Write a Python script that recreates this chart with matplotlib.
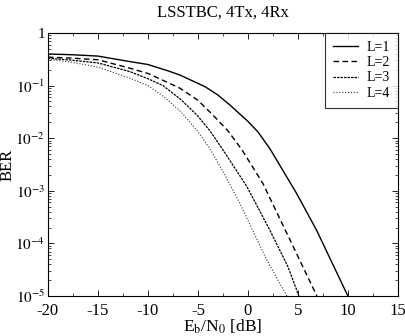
import numpy as np
import matplotlib
matplotlib.use("Agg")
import matplotlib.pyplot as plt
from matplotlib.ticker import FixedLocator, NullFormatter, LogLocator

plt.rcParams['font.family'] = ['Liberation Serif', 'DejaVu Serif']
plt.rcParams['mathtext.fontset'] = 'stix'

# Eb/N0 [dB] and log10(BER)
snr_L1 = [-20, -17.5, -15, -11.8, -10, -8, -6.8, -4.3, -3, -1.8, 0, 1, 2.2, 4.87, 6.87, 10]
log_L1 = [-0.40, -0.415, -0.44, -0.545, -0.60, -0.72, -0.80, -1.02, -1.18, -1.37, -1.68, -1.88, -2.20, -3.05, -3.75, -5.0]

snr_L2 = [-20, -17.5, -15, -11.8, -10, -8.5, -6.8, -5, -3.5, -2, -0.6, 1.5, 3.9, 6.9]
log_L2 = [-0.46, -0.48, -0.51, -0.67, -0.77, -0.90, -1.05, -1.28, -1.56, -1.86, -2.22, -2.86, -3.81, -5.0]

snr_L3 = [-20, -17.5, -15, -11.8, -10, -8.5, -6.8, -5.1, -3.8, -2.5, -0.1, 2.2, 4.0, 5.1]
log_L3 = [-0.48, -0.52, -0.57, -0.735, -0.87, -1.0, -1.25, -1.56, -1.86, -2.22, -2.92, -3.75, -4.44, -5.0]

snr_L4 = [-20, -17.5, -15, -11.8, -10, -8.5, -6.8, -5.1, -3.8, -2.3, -0.8, 1.9, 3.9]
log_L4 = [-0.50, -0.56, -0.65, -0.86, -1.0, -1.20, -1.48, -1.85, -2.20, -2.70, -3.24, -4.32, -5.0]

labels = ['L=1', 'L=2', 'L=3', 'L=4']
xticks = [-20, -15, -10, -5, 0, 5, 10, 15]

fig = plt.figure(figsize=(4.06, 3.36), dpi=100)
ax = fig.add_axes([0.118, 0.119, 0.862, 0.783])

ax.semilogy(snr_L1, 10.0 ** np.array(log_L1), color='black', lw=1.0, ls='-', label=labels[0])
ax.semilogy(snr_L2, 10.0 ** np.array(log_L2), color='black', lw=1.0, ls=(0, (4, 2.5)), label=labels[1])
ax.semilogy(snr_L3, 10.0 ** np.array(log_L3), color='black', lw=0.9, ls=(0, (2, 0.8)), label=labels[2])
ax.semilogy(snr_L4, 10.0 ** np.array(log_L4), color='#333333', lw=0.8, ls=(0, (1, 1.6)), label=labels[3])

ax.set_xlim(-20, 15)
ax.set_ylim(1e-5, 1)
ax.set_xticks(xticks)
ax.set_xticklabels([str(t) for t in xticks])
ax.xaxis.set_minor_locator(FixedLocator(np.arange(-20, 15.1, 2.5)))
ax.set_yticks([1e-5, 1e-4, 1e-3, 1e-2, 1e-1, 1])
ax.set_yticklabels([r'$10^{-5}$', r'$10^{-4}$', r'$10^{-3}$', r'$10^{-2}$', r'$10^{-1}$', '1'])
ax.yaxis.set_minor_locator(LogLocator(base=10, subs=np.arange(2, 10), numticks=20))
ax.yaxis.set_minor_formatter(NullFormatter())

ax.tick_params(which='both', direction='in', top=True, right=True, labelsize=12)
ax.tick_params(axis='y', pad=2, labelsize=11)
ax.tick_params(axis='x', pad=5)
ax.tick_params(which='major', length=4, width=0.6)
ax.tick_params(which='minor', length=2, width=0.5)
for s in ax.spines.values():
    s.set_linewidth(0.8)

ax.set_title('LSSTBC, 4Tx, 4Rx', fontsize=12, pad=12)
ax.set_xlabel(r'E$_\mathrm{b}$/N$_\mathrm{0}$ [dB]', fontsize=12.5, labelpad=-1)
ax.set_ylabel('BER', fontsize=12)
ax.yaxis.set_label_coords(-0.092, 0.5)

leg = ax.legend(loc='upper right', fontsize=10, frameon=True, fancybox=False,
                edgecolor='black', borderaxespad=0, handlelength=1.8,
                handletextpad=0.6, labelspacing=0.15, borderpad=0.6)
leg.get_frame().set_linewidth(0.8)

fig.savefig('out.png', dpi=100)
